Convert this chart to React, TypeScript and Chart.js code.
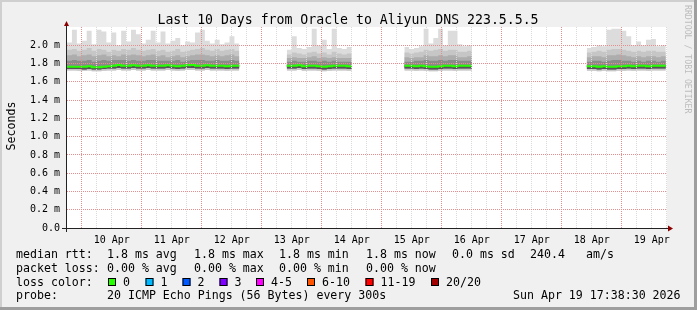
import React, { useEffect, useRef } from "react";
import { Chart, registerables } from "chart.js";

Chart.register(...registerables);

const TITLE = "Last 10 Days from Oracle to Aliyun DNS 223.5.5.5";
const Y_LABEL = "Seconds";
const WATERMARK = "RRDTOOL / TOBI OETIKER";
const MONTH = "Apr";

// time axis in days of April
const X_MIN = 9.755;
const X_MAX = 19.755;
const Y_MIN = 0;
const Y_MAX = 2.2;

// data segments (start day, end day); values below are 2-hour bins, segments separated by null
const SEGMENTS = [
  [9.755, 12.627],
  [13.417, 14.5],
  [15.377, 16.505],
  [18.417, 19.735],
];

const MAX_RTT = [
  2.03, 2.17, 2.02, 2.05, 2.16, 2.01, 2.17, 2.15, 2.03, 2.14, 2.0, 2.16, 2.04, 2.17, 2.12, 2.02, 2.06, 2.16, 2.03, 2.15, 2.02, 2.05, 2.08, 2.0, 2.04, 2.03, 2.14, 2.17, 2.05, 2.02, 2.06, 2.01, 2.03, 2.1, 2.02,
  null,
  1.95, 2.1, 1.97, 1.96, 1.98, 2.18, 2.0, 2.06, 1.96, 2.18, 1.97, 1.96, 1.98,
  null,
  1.98, 1.96, 1.97, 1.99, 2.18, 2.02, 2.08, 2.18, 2.0, 2.16, 2.16, 2.01, 1.99, 2.0,
  null,
  1.97, 1.98, 2.0, 1.99, 2.17, 2.18, 2.18, 2.16, 2.1, 2.0, 2.04, 2.0, 2.06, 2.07, 1.99, 2.0,
];

const P90_RTT = [
  1.95, 1.96, 1.94, 1.95, 1.97, 1.94, 1.96, 1.95, 1.93, 1.95, 1.94, 1.96, 1.95, 1.97, 1.95, 1.94, 1.95, 1.96, 1.94, 1.95, 1.93, 1.94, 1.96, 1.93, 1.94, 1.95, 1.96, 1.97, 1.95, 1.94, 1.96, 1.94, 1.95, 1.96, 1.94,
  null,
  1.9, 1.92, 1.91, 1.9, 1.92, 1.93, 1.91, 1.92, 1.9, 1.93, 1.91, 1.9, 1.91,
  null,
  1.92, 1.91, 1.92, 1.93, 1.95, 1.94, 1.95, 1.96, 1.94, 1.95, 1.95, 1.93, 1.93, 1.94,
  null,
  1.92, 1.93, 1.94, 1.93, 1.95, 1.96, 1.96, 1.95, 1.94, 1.93, 1.94, 1.93, 1.94, 1.94, 1.93, 1.93,
];

const P75_RTT = [
  1.89, 1.9, 1.88, 1.89, 1.9, 1.88, 1.89, 1.9, 1.88, 1.89, 1.88, 1.9, 1.89, 1.9, 1.89, 1.88, 1.89, 1.9, 1.88, 1.89, 1.87, 1.88, 1.89, 1.87, 1.88, 1.89, 1.9, 1.9, 1.89, 1.88, 1.89, 1.88, 1.89, 1.9, 1.88,
  null,
  1.86, 1.87, 1.86, 1.86, 1.87, 1.88, 1.86, 1.87, 1.86, 1.87, 1.86, 1.86, 1.86,
  null,
  1.87, 1.86, 1.87, 1.87, 1.89, 1.88, 1.88, 1.89, 1.88, 1.89, 1.89, 1.87, 1.87, 1.88,
  null,
  1.87, 1.88, 1.88, 1.87, 1.89, 1.89, 1.9, 1.89, 1.88, 1.87, 1.88, 1.87, 1.88, 1.88, 1.87, 1.88,
];

const P60_RTT = [
  1.83, 1.84, 1.83, 1.83, 1.84, 1.82, 1.83, 1.84, 1.83, 1.84, 1.84, 1.84, 1.83, 1.84, 1.83, 1.83, 1.84, 1.84, 1.83, 1.83, 1.83, 1.83, 1.84, 1.82, 1.83, 1.84, 1.84, 1.84, 1.83, 1.83, 1.84, 1.83, 1.83, 1.84, 1.83,
  null,
  1.82, 1.83, 1.82, 1.82, 1.83, 1.83, 1.82, 1.83, 1.82, 1.83, 1.82, 1.82, 1.82,
  null,
  1.82, 1.82, 1.83, 1.83, 1.84, 1.83, 1.83, 1.84, 1.83, 1.84, 1.84, 1.83, 1.83, 1.83,
  null,
  1.82, 1.83, 1.83, 1.82, 1.83, 1.84, 1.84, 1.83, 1.83, 1.82, 1.83, 1.82, 1.83, 1.83, 1.82, 1.83,
];

const MEDIAN_RTT = [
  1.765, 1.765, 1.765, 1.765, 1.77, 1.76, 1.76, 1.765, 1.77, 1.775, 1.785, 1.775, 1.775, 1.78, 1.775, 1.775, 1.78, 1.775, 1.775, 1.775, 1.78, 1.775, 1.77, 1.775, 1.78, 1.785, 1.775, 1.775, 1.78, 1.775, 1.775, 1.775, 1.77, 1.775, 1.775,
  null,
  1.775, 1.775, 1.78, 1.77, 1.775, 1.775, 1.77, 1.765, 1.77, 1.775, 1.775, 1.775, 1.77,
  null,
  1.775, 1.775, 1.77, 1.775, 1.77, 1.765, 1.765, 1.77, 1.775, 1.775, 1.77, 1.775, 1.775, 1.775,
  null,
  1.77, 1.77, 1.765, 1.77, 1.765, 1.765, 1.77, 1.77, 1.775, 1.77, 1.775, 1.775, 1.77, 1.775, 1.775, 1.775,
];

const P10_RTT = [
  1.74, 1.74, 1.74, 1.735, 1.74, 1.735, 1.735, 1.74, 1.745, 1.745, 1.75, 1.745, 1.745, 1.75, 1.745, 1.745, 1.75, 1.745, 1.745, 1.745, 1.75, 1.745, 1.74, 1.745, 1.75, 1.75, 1.745, 1.745, 1.75, 1.745, 1.745, 1.745, 1.74, 1.745, 1.745,
  null,
  1.745, 1.745, 1.75, 1.74, 1.745, 1.745, 1.74, 1.735, 1.74, 1.745, 1.745, 1.745, 1.74,
  null,
  1.745, 1.745, 1.74, 1.745, 1.74, 1.735, 1.735, 1.74, 1.745, 1.745, 1.74, 1.745, 1.745, 1.745,
  null,
  1.74, 1.74, 1.735, 1.74, 1.735, 1.735, 1.74, 1.74, 1.745, 1.74, 1.745, 1.745, 1.74, 1.745, 1.745, 1.745,
];

const MIN_RTT = [
  1.725, 1.725, 1.72, 1.72, 1.725, 1.715, 1.715, 1.72, 1.725, 1.725, 1.73, 1.725, 1.725, 1.73, 1.725, 1.725, 1.73, 1.725, 1.725, 1.725, 1.73, 1.725, 1.72, 1.725, 1.73, 1.73, 1.725, 1.725, 1.73, 1.725, 1.725, 1.725, 1.72, 1.725, 1.725,
  null,
  1.725, 1.725, 1.73, 1.72, 1.725, 1.725, 1.72, 1.715, 1.72, 1.725, 1.725, 1.725, 1.72,
  null,
  1.725, 1.725, 1.72, 1.725, 1.72, 1.715, 1.715, 1.72, 1.725, 1.725, 1.72, 1.725, 1.725, 1.725,
  null,
  1.72, 1.72, 1.715, 1.72, 1.715, 1.715, 1.72, 1.72, 1.725, 1.72, 1.725, 1.725, 1.72, 1.725, 1.725, 1.725,
];

// legend
const LEGEND_RTT = ["median rtt:", "1.8 ms avg", "1.8 ms max", "1.8 ms min", "1.8 ms now", "0.0 ms sd", "240.4", "am/s"];
const LEGEND_LOSS = ["packet loss:", "0.00 % avg", "0.00 % max", "0.00 % min", "0.00 % now"];
const LOSS_LABELS = ["0", "1", "2", "3", "4-5", "6-10", "11-19", "20/20"];
const LOSS_COLORS = ["#26ff00", "#00b8ff", "#0059ff", "#7e00ff", "#ff00ff", "#ff5500", "#ff0000", "#a10000"];
const PROBE_TEXT = "20 ICMP Echo Pings (56 Bytes) every 300s";
const DATE_TEXT = "Sun Apr 19 17:38:30 2026";

const MONO = '"DejaVu Sans Mono", monospace';
const MAJOR_GRID = "#e68e8e";
const MINOR_GRID = "#dadada";

function buildPoints(values: (number | null)[]) {
  const pts: { x: number; y: number | null }[] = [];
  let idx = 0;
  SEGMENTS.forEach(([s, e], si) => {
    const seg: number[] = [];
    while (idx < values.length && values[idx] !== null) {
      seg.push(values[idx] as number);
      idx++;
    }
    idx++;
    const step = (e - s) / seg.length;
    seg.forEach((v, i) => pts.push({ x: s + i * step, y: v }));
    pts.push({ x: e, y: seg[seg.length - 1] });
    if (si < SEGMENTS.length - 1) pts.push({ x: (e + SEGMENTS[si + 1][0]) / 2, y: null });
  });
  return pts;
}

const decor = {
  id: "decor",
  beforeDraw(chart: any) {
    const { ctx, chartArea: a, width, height } = chart;
    ctx.save();
    ctx.fillStyle = "#f0f0f0";
    ctx.fillRect(0, 0, width, height);
    ctx.fillStyle = "#cfcfcf";
    ctx.fillRect(0, 0, width, 2);
    ctx.fillRect(0, 0, 2, height);
    ctx.fillStyle = "#9e9e9e";
    ctx.fillRect(0, height - 3, width, 3);
    ctx.fillRect(width - 3, 0, 3, height);
    ctx.fillStyle = "#ffffff";
    ctx.fillRect(a.left, a.top, a.right - a.left, a.bottom - a.top);
    ctx.restore();
  },
  afterDatasetsDraw(chart: any) {
    // dotted grid drawn over the smoke, positions from the scales' ticks
    const { ctx, chartArea: a, scales } = chart;
    const top = Math.round(a.top);
    const bottom = Math.round(a.bottom);
    const left = Math.round(a.left);
    const right = Math.round(a.right);
    ctx.save();
    for (const pass of [0, 1]) {
      scales.x.ticks.forEach((t: any) => {
        const major = Number.isInteger(t.value);
        if ((pass === 1) !== major) return;
        const px = Math.floor(scales.x.getPixelForValue(t.value));
        if (px <= left || px >= right) return;
        ctx.fillStyle = major ? MAJOR_GRID : MINOR_GRID;
        for (let y = top; y < bottom; y += 2) ctx.fillRect(px, y, 1, 1);
      });
      scales.y.ticks.forEach((t: any) => {
        const k = Math.round(t.value * 10);
        if (k === 0 || k >= 22) return;
        const major = k % 2 === 0;
        if ((pass === 1) !== major) return;
        const py = Math.floor(scales.y.getPixelForValue(t.value));
        ctx.fillStyle = major ? MAJOR_GRID : MINOR_GRID;
        for (let x = left; x < right; x += 2) ctx.fillRect(x, py, 1, 1);
      });
    }
    ctx.restore();
  },
  afterDraw(chart: any) {
    const { ctx, chartArea: a } = chart;
    ctx.save();
    // axes
    ctx.strokeStyle = "#222";
    ctx.lineWidth = 1;
    ctx.beginPath();
    ctx.moveTo(a.left - 0.5, a.bottom + 4);
    ctx.lineTo(a.left - 0.5, a.top - 4);
    ctx.moveTo(a.left - 5, a.bottom + 0.5);
    ctx.lineTo(a.right + 1, a.bottom + 0.5);
    ctx.stroke();
    ctx.fillStyle = "#8b0000";
    ctx.beginPath();
    ctx.moveTo(a.left - 3, a.top - 1);
    ctx.lineTo(a.left + 2, a.top - 1);
    ctx.lineTo(a.left - 0.5, a.top - 6);
    ctx.closePath();
    ctx.fill();
    ctx.beginPath();
    ctx.moveTo(a.right + 1, a.bottom - 2.5);
    ctx.lineTo(a.right + 1, a.bottom + 3.5);
    ctx.lineTo(a.right + 6, a.bottom + 0.5);
    ctx.closePath();
    ctx.fill();

    // title
    ctx.fillStyle = "#000";
    ctx.font = `13.2px ${MONO}`;
    ctx.textAlign = "center";
    ctx.textBaseline = "alphabetic";
    ctx.fillText(TITLE, 348, 23.5);

    // y label
    ctx.save();
    ctx.translate(15, 126);
    ctx.rotate(-Math.PI / 2);
    ctx.font = `11.6px ${MONO}`;
    ctx.fillText(Y_LABEL, 0, 0);
    ctx.restore();

    // watermark
    ctx.save();
    ctx.translate(685, 5);
    ctx.rotate(Math.PI / 2);
    ctx.textAlign = "left";
    ctx.fillStyle = "#bcbcbc";
    ctx.font = `8.2px ${MONO}`;
    ctx.fillText(WATERMARK, 0, 0);
    ctx.restore();

    // legend
    ctx.textAlign = "left";
    ctx.fillStyle = "#000";
    ctx.font = `11.6px ${MONO}`;
    const rttX = [16, 107, 194, 279, 366, 452, 530, 586];
    LEGEND_RTT.forEach((t, i) => ctx.fillText(t, rttX[i], 258));
    const lossX = [16, 107, 194, 279, 366];
    LEGEND_LOSS.forEach((t, i) => ctx.fillText(t, lossX[i], 271.8));
    ctx.fillText("loss color:", 16, 285.6);
    const boxX = [108, 145.5, 182.5, 219.5, 256, 307, 365.5, 431];
    LOSS_LABELS.forEach((t, i) => {
      ctx.fillStyle = LOSS_COLORS[i];
      ctx.fillRect(boxX[i], 278, 8, 8);
      ctx.strokeStyle = "#000";
      ctx.lineWidth = 1;
      ctx.strokeRect(boxX[i] + 0.5, 278.5, 7, 7);
      ctx.fillStyle = "#000";
      ctx.fillText(t, boxX[i] + 15, 285.6);
    });
    ctx.fillText("probe:", 16, 299.3);
    ctx.fillText(PROBE_TEXT, 107, 299.3);
    ctx.fillText(DATE_TEXT, 513, 299.3);
    ctx.restore();
  },
};

export default function App() {
  const ref = useRef<HTMLCanvasElement | null>(null);

  useEffect(() => {
    document.body.style.margin = "0";
    const canvas = ref.current;
    if (!canvas) return;

    const mk = (data: any[], extra: any) => ({
      data,
      stepped: true,
      pointRadius: 0,
      borderWidth: 0,
      borderColor: "rgba(0,0,0,0)",
      spanGaps: false,
      ...extra,
    });

    const chart = new Chart(canvas, {
      type: "line",
      data: {
        datasets: [
          mk(buildPoints(MIN_RTT), { fill: false, order: 10 }),
          mk(buildPoints(P10_RTT), { fill: false, order: 10 }),
          mk(buildPoints(MEDIAN_RTT), { fill: false, borderColor: "#26ff00", borderWidth: 2, order: 0 }),
          mk(buildPoints(MEDIAN_RTT), { fill: { target: 1 }, backgroundColor: "#555555", order: 1 }),
          mk(buildPoints(P60_RTT), { fill: { target: 1 }, backgroundColor: "#8a8a8a", order: 2 }),
          mk(buildPoints(P75_RTT), { fill: { target: 1 }, backgroundColor: "#adadad", order: 3 }),
          mk(buildPoints(P90_RTT), { fill: { target: 0 }, backgroundColor: "#c6c6c6", order: 4 }),
          mk(buildPoints(MAX_RTT), { fill: { target: 0 }, backgroundColor: "#dcdcdc", order: 5 }),
        ],
      },
      options: {
        animation: false,
        responsive: false,
        devicePixelRatio: 1,
        parsing: false as any,
        normalized: true,
        layout: { padding: { top: 27, right: 30, left: 0, bottom: 0 } },
        plugins: {
          legend: { display: false },
          tooltip: { enabled: false },
          title: { display: false },
        },
        events: [],
        scales: {
          x: {
            type: "linear",
            min: X_MIN,
            max: X_MAX,
            afterBuildTicks: (scale: any) => {
              const t = [];
              for (let k = Math.ceil(X_MIN * 4); k <= Math.floor(X_MAX * 4); k++) t.push({ value: k / 4 });
              scale.ticks = t;
            },
            afterFit: (scale: any) => {
              scale.height = 82;
            },
            grid: { display: false, drawTicks: false },
            border: { display: false },
            ticks: {
              autoSkip: false,
              maxRotation: 0,
              padding: 6,
              color: "#000",
              font: { family: MONO, size: 10 },
              callback: (v: any) => {
                const n = Number(v);
                return Math.abs(n - Math.floor(n) - 0.5) < 1e-6 ? `${Math.floor(n)} ${MONTH}` : "";
              },
            },
          },
          y: {
            type: "linear",
            min: Y_MIN,
            max: Y_MAX,
            afterBuildTicks: (scale: any) => {
              const t = [];
              for (let k = 0; k <= 22; k++) t.push({ value: k / 10 });
              scale.ticks = t;
            },
            afterFit: (scale: any) => {
              scale.width = 67;
            },
            grid: { display: false, drawTicks: false },
            border: { display: false },
            ticks: {
              padding: 7,
              color: "#000",
              font: { family: MONO, size: 10 },
              callback: (v: any) => {
                const k = Math.round(Number(v) * 10);
                if (k % 2 !== 0 || k >= 22) return "";
                if (k === 0) return "0.0";
                return `${(k / 10).toFixed(1)} m`;
              },
            },
          },
        },
      },
      plugins: [decor],
    });

    return () => chart.destroy();
  }, []);

  return (
    <div style={{ width: 697, height: 310 }}>
      <canvas ref={ref} width={697} height={310} style={{ display: "block", width: 697, height: 310 }} />
    </div>
  );
}
